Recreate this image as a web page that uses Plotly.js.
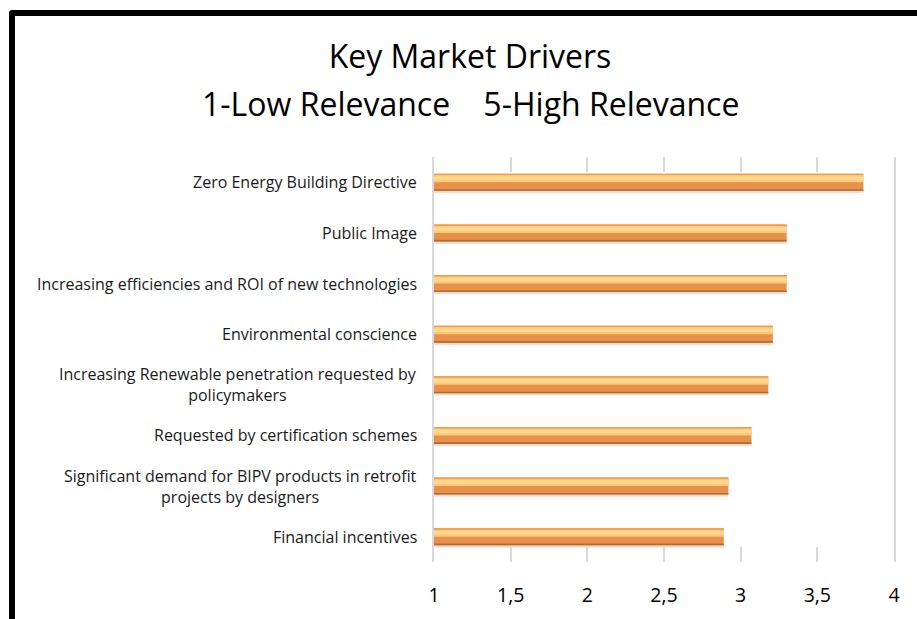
<!DOCTYPE html>
<html>
<head>
<meta charset="utf-8">
<script src="https://cdn.plot.ly/plotly-3.0.1.min.js"></script>
<style>
  html, body { margin: 0; padding: 0; overflow: hidden; background: #fff; }
  #chart { position: absolute; left: 0; top: 0; width: 917px; height: 619px; }
  #frame { position: absolute; left: 9px; top: 10px; width: 1000px; height: 700px;
           border: 6px solid #000; border-radius: 3px; pointer-events: none; }
</style>
</head>
<body>
<div id="chart"></div>
<div id="frame"></div>
<script>
// ---- data ----
const categories = [
  "Zero Energy Building Directive",
  "Public Image",
  "Increasing efficiencies and ROI of new technologies",
  "Environmental conscience",
  "Increasing Renewable penetration requested by<br>policymakers",
  "Requested by certification schemes",
  "Significant demand for BIPV products in retrofit<br>projects by designers",
  "Financial incentives"
];
const relevance = [3.80, 3.30, 3.30, 3.21, 3.18, 3.07, 2.92, 2.89];
const tickValues = [1, 1.5, 2, 2.5, 3, 3.5, 4];
const tickLabels = ["1", "1,5", "2", "2,5", "3", "3,5", "4"];
const titleLine1 = "Key Market Drivers";
const titleLine2 = "1-Low Relevance\u00a0\u00a0\u00a0\u00a05-High Relevance";

// ---- layout geometry ----
const W = 917, H = 619;
const M = { l: 434, r: 23, t: 157, b: 57 };
const pxPerCat = (H - M.t - M.b) / categories.length;
const u = px => px / pxPerCat;
const barPx = 17;
const top0 = -barPx / 2;

// beveled look: stacked overlay bands [startPx, heightPx, color]
const bands = [
  [16.5, 2.8, "#F8DCCB"],
  [0, barPx, "#E8914A"],
  [1.2, 7.3, "#FDC877"],
  [2.8, 3.6, "#FFDA8E"],
  [0, 1.3, "#F29A4F"],
  [15.4, 1.6, "#B06B38"]
];

const traces = bands.map(b => ({
  type: "bar",
  orientation: "h",
  x: relevance,
  y: categories,
  width: u(b[1]),
  offset: u(top0 + b[0]),
  marker: { color: b[2], line: { width: 0 } },
  hoverinfo: "skip",
  showlegend: false
}));

const fontFam = "'Open Sans', sans-serif";

const annotations = categories.map(c => ({
  xref: "paper", yref: "y",
  x: 0, y: c,
  xanchor: "right", yanchor: "middle",
  xshift: -15,
  text: c, showarrow: false, align: "center",
  font: { family: fontFam, size: 16, color: "#1a1a1a" }
}));
annotations.push({
  xref: "paper", yref: "paper",
  x: (470 - M.l) / (W - M.l - M.r), y: 1,
  xanchor: "center", yanchor: "middle",
  yshift: (M.t - 103),
  text: titleLine2, showarrow: false,
  font: { family: fontFam, size: 32, color: "#000" }
});

const layout = {
  width: W, height: H,
  margin: M,
  paper_bgcolor: "#fff", plot_bgcolor: "#fff",
  barmode: "overlay",
  title: {
    text: titleLine1,
    x: 470 / W, xanchor: "center",
    y: 1 - 57 / H, yanchor: "middle",
    font: { family: fontFam, size: 32, color: "#000" }
  },
  xaxis: {
    range: [1, 4],
    tickmode: "array", tickvals: tickValues, ticktext: tickLabels,
    ticks: "inside", ticklen: 15, tickwidth: 2, tickcolor: "#D9D9D9",
    showgrid: false, zeroline: false, showline: false,
    ticklabelstandoff: 19,
    tickfont: { family: fontFam, size: 19.5, color: "#000" },
    fixedrange: true
  },
  xaxis2: {
    overlaying: "x", side: "top", range: [1, 4],
    tickmode: "array", tickvals: tickValues,
    ticks: "inside", ticklen: 15, tickwidth: 2, tickcolor: "#D9D9D9",
    showticklabels: false, showgrid: false, zeroline: false, showline: false,
    fixedrange: true
  },
  yaxis: {
    type: "category",
    autorange: "reversed",
    showticklabels: false, ticks: "",
    showgrid: false, zeroline: false,
    showline: true, mirror: true, linecolor: "#D9D9D9", linewidth: 2,
    fixedrange: true
  },
  annotations: annotations
};

// invisible trace so the top tick axis is drawn
traces.push({
  type: "scatter", x: [1, 4], y: [categories[0], categories[0]],
  xaxis: "x2", mode: "markers", marker: { opacity: 0 },
  hoverinfo: "skip", showlegend: false
});

Plotly.newPlot("chart", traces, layout, { displayModeBar: false, staticPlot: true });
</script>
</body>
</html>
